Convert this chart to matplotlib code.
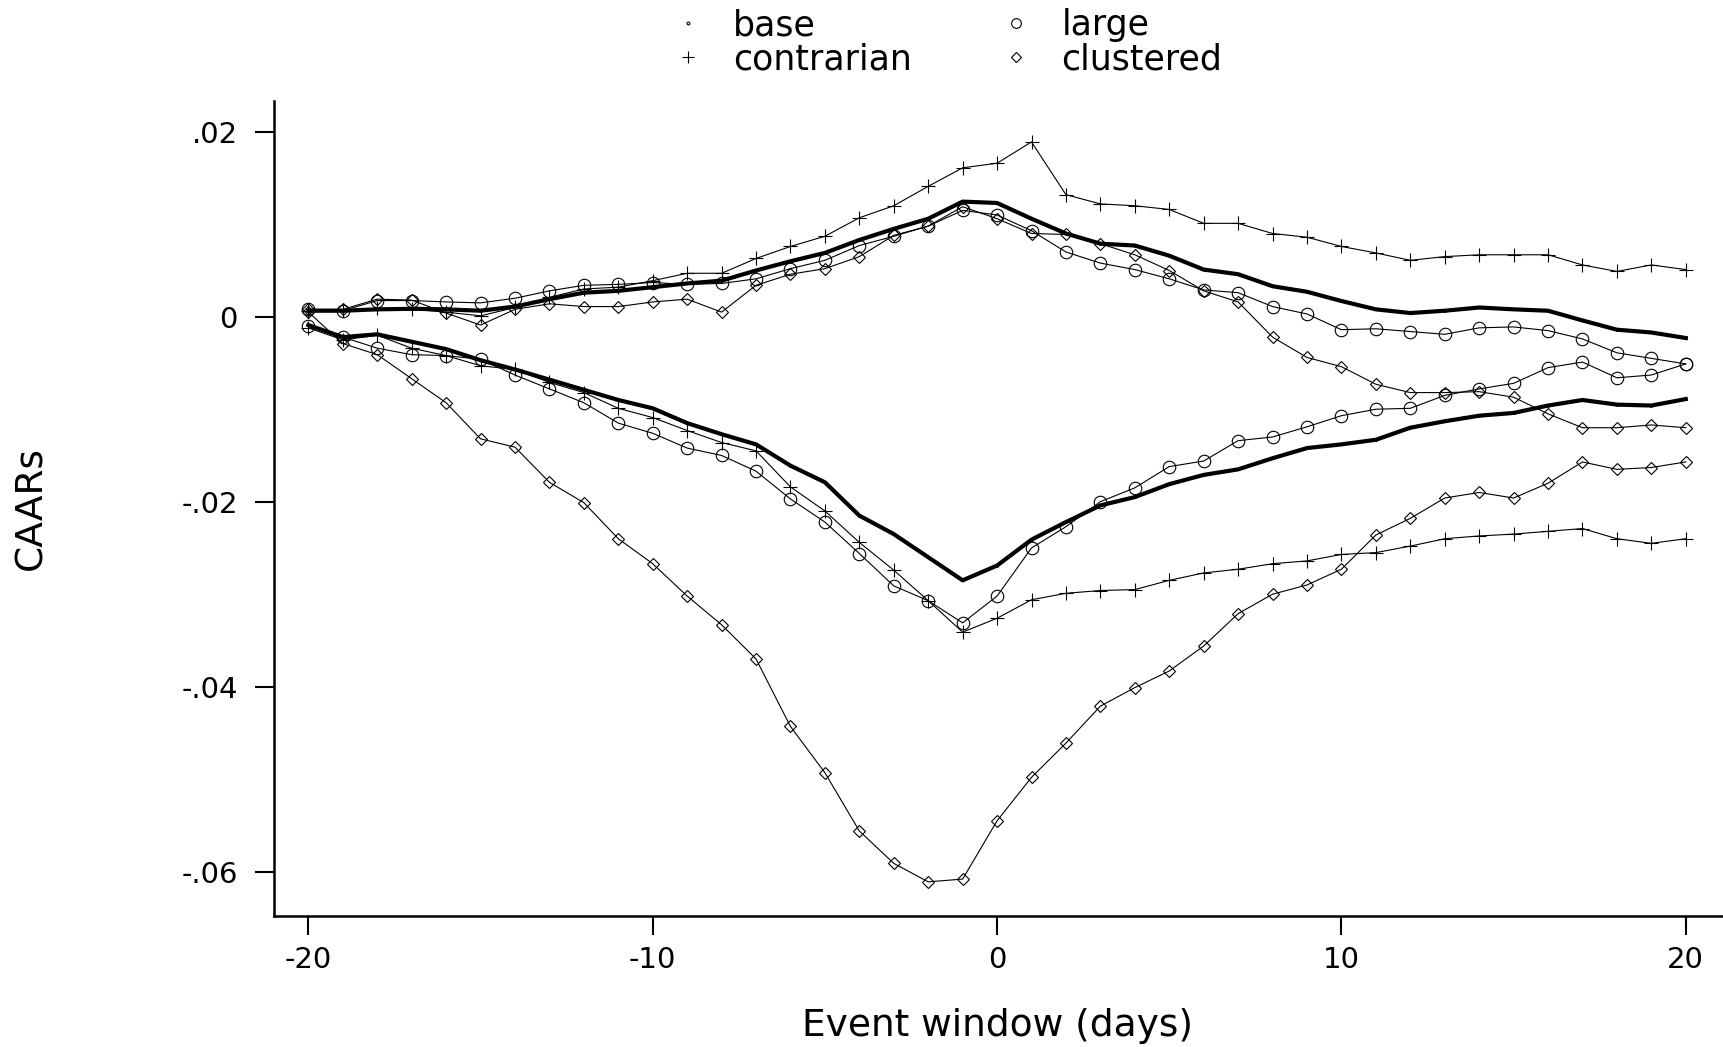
import numpy as np
import matplotlib
matplotlib.use("Agg")
import matplotlib.pyplot as plt
from matplotlib.lines import Line2D

# event window
days = list(range(-20, 21))

# upper (positive) group
base_up = [0.00065, 0.00065, 0.0008, 0.00086, 0.0008, 0.00065, 0.0011, 0.0019, 0.0026, 0.0028,
           0.0032, 0.0036, 0.0039, 0.0050, 0.0060, 0.0069, 0.0083, 0.0095, 0.0106, 0.01245,
           0.0123, 0.0106, 0.0090, 0.0079, 0.0077, 0.0066, 0.0051, 0.0046, 0.0033, 0.0027,
           0.0017, 0.0008, 0.0004, 0.00065, 0.0010, 0.0008, 0.00065, -0.0004, -0.0014, -0.0017,
           -0.0023]
large_up = [0.0008, 0.00065, 0.00175, 0.00175, 0.0016, 0.0015, 0.0020, 0.0028, 0.0034, 0.0035,
            0.0037, 0.0035, 0.0036, 0.0041, 0.0052, 0.0061, 0.0077, 0.0087, 0.0098, 0.0115,
            0.0110, 0.0093, 0.0070, 0.0058, 0.0051, 0.0041, 0.0029, 0.0026, 0.0011, 0.0003,
            -0.0014, -0.0013, -0.0016, -0.0019, -0.0012, -0.0011, -0.0015, -0.0024, -0.0039, -0.0045,
            -0.0051]
contr_up = [0.00065, 0.0007, 0.0009, 0.0008, 0.0005, 0.0001, 0.0010, 0.0021, 0.0030, 0.0032,
            0.0039, 0.0047, 0.0047, 0.0063, 0.0076, 0.0087, 0.0107, 0.0120, 0.0141, 0.0161,
            0.0166, 0.0189, 0.0132, 0.0122, 0.0120, 0.0116, 0.0101, 0.0101, 0.0090, 0.0086,
            0.0076, 0.0069, 0.0061, 0.0065, 0.0067, 0.0067, 0.0067, 0.0056, 0.0049, 0.0056,
            0.0051]
clust_up = [0.0008, 0.0008, 0.0019, 0.0018, 0.0004, -0.0009, 0.0008, 0.0014, 0.0011, 0.0011,
            0.0016, 0.0019, 0.0005, 0.0034, 0.0046, 0.0052, 0.0065, 0.0088, 0.0098, 0.0119,
            0.0106, 0.0090, 0.0089, 0.0079, 0.0067, 0.0050, 0.0028, 0.0016, -0.0022, -0.0044,
            -0.0054, -0.0073, -0.0082, -0.0082, -0.0081, -0.0087, -0.0105, -0.0120, -0.0120, -0.0117,
            -0.0120]

# lower (negative) group
base_lo = [-0.0009, -0.0022, -0.0019, -0.0027, -0.0035, -0.0047, -0.0057, -0.0068, -0.0079, -0.0090,
           -0.0099, -0.0115, -0.0127, -0.0138, -0.0161, -0.0179, -0.0215, -0.0235, -0.0260, -0.0285,
           -0.0269, -0.0241, -0.0222, -0.0204, -0.0195, -0.0181, -0.0171, -0.0165, -0.0153, -0.0142,
           -0.0138, -0.0133, -0.0120, -0.0113, -0.0107, -0.0104, -0.0096, -0.0090, -0.0095, -0.0096,
           -0.0089]
large_lo = [-0.0010, -0.0022, -0.0034, -0.0041, -0.0042, -0.0046, -0.0063, -0.0078, -0.0093, -0.0115,
            -0.0126, -0.0142, -0.0150, -0.0167, -0.0197, -0.0222, -0.0256, -0.0291, -0.0307, -0.0331,
            -0.0302, -0.0250, -0.0227, -0.0200, -0.0185, -0.0162, -0.0156, -0.0134, -0.0130, -0.0119,
            -0.0107, -0.0100, -0.0099, -0.0085, -0.0078, -0.0072, -0.0055, -0.0049, -0.0066, -0.0063,
            -0.0051]
contr_lo = [-0.0012, -0.0025, -0.0020, -0.0034, -0.0042, -0.0053, -0.0057, -0.0071, -0.0082, -0.0099,
            -0.0109, -0.0123, -0.0136, -0.0145, -0.0184, -0.0210, -0.0244, -0.0274, -0.0307, -0.0341,
            -0.0326, -0.0306, -0.0299, -0.0296, -0.0295, -0.0285, -0.0277, -0.0273, -0.0267, -0.0264,
            -0.0257, -0.0255, -0.0248, -0.0240, -0.0237, -0.0235, -0.0232, -0.0229, -0.0240, -0.0245,
            -0.0240]
clust_lo = [0.0005, -0.0029, -0.0041, -0.0067, -0.0093, -0.0132, -0.0141, -0.0179, -0.0201, -0.0240,
            -0.0267, -0.0302, -0.0333, -0.0370, -0.0443, -0.0493, -0.0556, -0.0591, -0.0611, -0.0608,
            -0.0545, -0.0498, -0.0461, -0.0421, -0.0401, -0.0383, -0.0356, -0.0321, -0.0300, -0.0290,
            -0.0273, -0.0236, -0.0218, -0.0196, -0.0190, -0.0196, -0.0180, -0.0157, -0.0165, -0.0163,
            -0.0157]

yticks = [0.02, 0, -0.02, -0.04, -0.06]
ytick_labels = [".02", "0", "-.02", "-.04", "-.06"]
xticks = [-20, -10, 0, 10, 20]

plt.rcParams["font.family"] = ["DejaVu Sans"]

fig = plt.figure(figsize=(17.24, 10.47), dpi=100)
ax = fig.add_axes([0.1589, 0.1254, 0.8399, 0.7779])

thin = dict(color="black", lw=0.8, mfc="none", mec="black", mew=0.8)
for b, l, c, k in [(base_up, large_up, contr_up, clust_up), (base_lo, large_lo, contr_lo, clust_lo)]:
    ax.plot(days, l, marker="o", ms=9, **thin)
    ax.plot(days, c, marker="+", ms=10, **thin)
    ax.plot(days, k, marker="D", ms=6, **thin)
    ax.plot(days, b, color="black", lw=3, marker=".", ms=2)

ax.set_xlim(-21, 21.05)
ax.set_ylim(-0.06476, 0.0233)
ax.set_xticks(xticks)
ax.set_xticklabels([str(t) for t in xticks])
ax.set_yticks(yticks)
ax.set_yticklabels(ytick_labels)
for s in ["top", "right"]:
    ax.spines[s].set_visible(False)
for s in ["left", "bottom"]:
    ax.spines[s].set_linewidth(1.8)
ax.tick_params(axis="both", direction="out", length=14, width=1.5, labelsize=21)
ax.tick_params(axis="y", pad=12)
ax.tick_params(axis="x", pad=8)

fig.text(998 / 1724, 1 - 1026 / 1047, "Event window (days)", ha="center", va="center", fontsize=27)
fig.text(31 / 1724, 1 - 508 / 1047, "CAARs", ha="center", va="center", rotation=90, fontsize=27)

mk = dict(color="black", linestyle="none", mfc="none", mec="black", mew=0.8)
handles = [
    Line2D([], [], marker=".", ms=4, **mk),
    Line2D([], [], marker="+", ms=8, **mk),
    Line2D([], [], marker="o", ms=7, **mk),
    Line2D([], [], marker="D", ms=5, **mk),
]
labels = ["base", "contrarian", "large", "clustered"]
fig.legend(handles, labels, ncol=2, loc="upper center", bbox_to_anchor=(0.549, 0.992),
           frameon=False, fontsize=25, handlelength=1.0, handletextpad=0.8,
           columnspacing=2.5, labelspacing=0.0, borderpad=0.0, borderaxespad=0.0)

fig.savefig("out.png", dpi=100)
